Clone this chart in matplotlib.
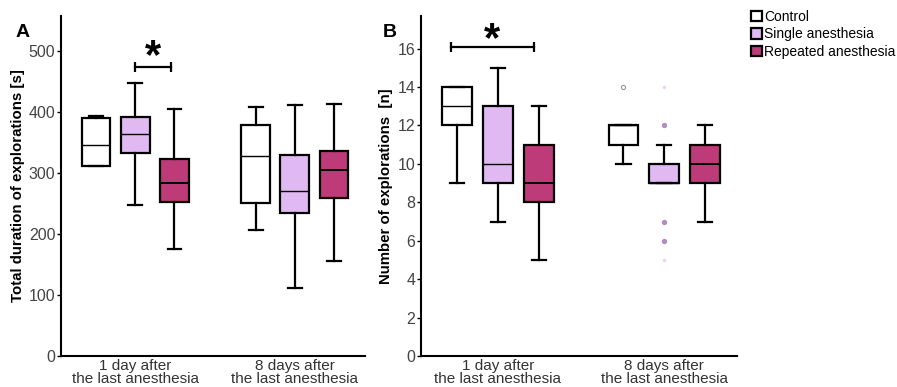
import matplotlib.pyplot as plt
from matplotlib.patches import Patch

plt.rcParams['font.family'] = ['Liberation Sans', 'DejaVu Sans']

groups = ["1 day after\nthe last anesthesia", "8 days after\nthe last anesthesia"]
series = ["Control", "Single anesthesia", "Repeated anesthesia"]
colors = ["#ffffff", "#e0b9f2", "#be3b7a"]

# (whislo, q1, med, q3, whishi), one tuple per group
dur_control = [(311, 311, 346, 390, 393), (206, 250, 327, 379, 408)]
dur_single = [(248, 333, 363, 392, 447), (112, 235, 270, 330, 411)]
dur_repeated = [(176, 253, 284, 322, 404), (156, 258, 305, 335, 412)]

n_control = [(9, 12, 13, 14, 14), (10, 11, 12, 12, 12)]
n_single = [(7, 9, 10, 13, 15), (9, 9, 9, 10, 11)]
n_repeated = [(5, 8, 9, 11, 13), (7, 9, 10, 11, 12)]

n_fliers_control = [[], [14]]
n_fliers_single = [[], [12, 7, 6]]
n_fliers_repeated = [[], []]
n_extreme_single = [14, 5]

flier_colors = ["#999999", "#b08cc0", "#be3b7a"]


def stats(boxes, fliers=None):
    out = []
    for i, (lo, q1, med, q3, hi) in enumerate(boxes):
        out.append(dict(whislo=lo, q1=q1, med=med, q3=q3, whishi=hi,
                        fliers=fliers[i] if fliers else []))
    return out


def draw(ax, data, fliers, ylim, yticks, ylabel):
    offsets = [-0.245, 0, 0.245]
    for k in range(3):
        pos = [g + 1 + offsets[k] for g in range(2)]
        ax.bxp(stats(data[k], fliers[k] if fliers else None), positions=pos,
               widths=0.18, patch_artist=True, capwidths=0.085,
               boxprops=dict(facecolor=colors[k], edgecolor='black', linewidth=1.6),
               whiskerprops=dict(color='black', linewidth=1.6),
               capprops=dict(color='black', linewidth=1.6),
               medianprops=dict(color='black', linewidth=1.0 if k < 2 else 1.4),
               flierprops=dict(marker='o', markersize=3, markerfacecolor=flier_colors[k] if k else 'none',
                               markeredgecolor=flier_colors[k], markeredgewidth=0.8))
    ax.set_xlim(0.535, 2.44)
    ax.set_ylim(*ylim)
    ax.set_yticks(yticks)
    ax.set_xticks([1, 2])
    ax.set_xticklabels(groups, fontsize=11, color='#333333', linespacing=0.95)
    ax.tick_params(axis='x', length=0, pad=2)
    ax.tick_params(axis='y', length=3, width=1, labelsize=11.5, labelcolor='#444444', pad=1)
    for s in ['top', 'right']:
        ax.spines[s].set_visible(False)
    for s in ['left', 'bottom']:
        ax.spines[s].set_linewidth(1.5)
    ax.set_ylabel(ylabel, fontsize=10.8, fontweight='bold', labelpad=3)


fig = plt.figure(figsize=(8.97, 3.87), dpi=100)
axA = fig.add_axes([0.068, 0.080, 0.339, 0.879])
axB = fig.add_axes([0.469, 0.080, 0.353, 0.879])

draw(axA, [dur_control, dur_single, dur_repeated], None, (0, 557),
     [0, 100, 200, 300, 400, 500], "Total duration of explorations [s]")
draw(axB, [n_control, n_single, n_repeated],
     [n_fliers_control, n_fliers_single, n_fliers_repeated], (0, 17.7),
     [0, 2, 4, 6, 8, 10, 12, 14, 16], "Number of explorations  [n]")
axB.plot([2] * len(n_extreme_single), n_extreme_single, 'o', markersize=2.5,
         color='#ecd3f5', markeredgewidth=0)

# significance brackets
axA.plot([1.0, 1.225], [474, 474], color='black', linewidth=1.6)
axA.plot([1.0, 1.225], [474, 474], '|', color='black', markersize=7, markeredgewidth=1.6)
axA.text(1.11, 457, "*", ha='center', va='bottom', fontsize=30, fontweight='bold')
axB.plot([0.72, 1.215], [16.1, 16.1], color='black', linewidth=1.6)
axB.plot([0.72, 1.215], [16.1, 16.1], '|', color='black', markersize=7, markeredgewidth=1.6)
axB.text(0.965, 15.42, "*", ha='center', va='bottom', fontsize=30, fontweight='bold')

fig.text(0.017, 0.905, "A", fontsize=14, fontweight='bold')
fig.text(0.427, 0.905, "B", fontsize=14, fontweight='bold')

handles = [Patch(facecolor=c, edgecolor='black', linewidth=1.6) for c in colors]
fig.legend(handles, series, loc='upper left', bbox_to_anchor=(0.826, 1.0),
           frameon=False, fontsize=10, handlelength=0.8, handleheight=0.8,
           handletextpad=0.15, labelspacing=0.25, borderaxespad=0.3)

fig.savefig("out.png", dpi=100)
